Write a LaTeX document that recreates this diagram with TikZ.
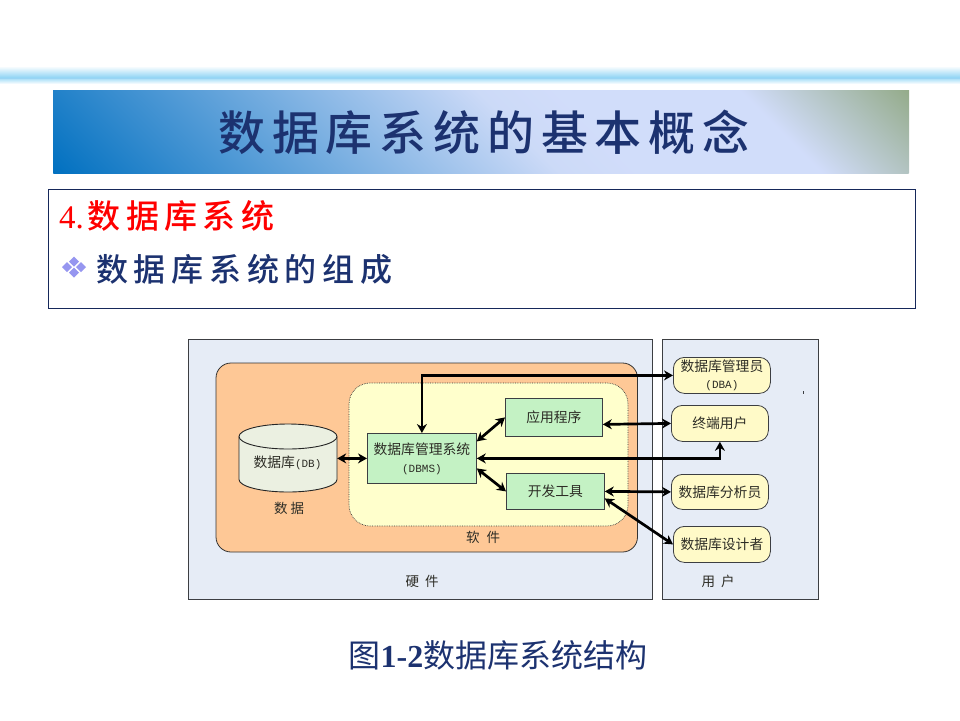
\documentclass[tikz,border=0pt]{standalone}
\usepackage{fontspec}
\usetikzlibrary{arrows.meta}
\newfontfamily\cjk{Noto Sans CJK SC}
\newfontfamily\cjkwide[LetterSpace=16]{Noto Sans CJK SC Medium}
\newfontfamily\cjksub[LetterSpace=18]{Noto Sans CJK SC Medium}
\newfontfamily\cjkhead[LetterSpace=14.5]{Noto Sans CJK SC Medium}
\newfontfamily\latinser{Liberation Serif}
\newfontfamily\latinmono{Liberation Mono}
\definecolor{navy}{RGB}{28,50,112}
\definecolor{inktext}{RGB}{45,45,38}
\definecolor{edgegray}{RGB}{60,62,66}
\definecolor{panelfill}{RGB}{230,236,246}
\definecolor{orangefill}{RGB}{254,200,150}
\definecolor{softfill}{RGB}{255,255,204}
\definecolor{greenfill}{RGB}{196,242,196}
\definecolor{userfill}{RGB}{255,250,200}
\definecolor{cylbody}{RGB}{235,240,225}
\definecolor{bulletc}{RGB}{150,150,240}
\pgfdeclarehorizontalshading{titlegrad}{100bp}{
 rgb(0bp)=(0,0.439,0.753);
 rgb(25bp)=(0,0.439,0.753);
 rgb(52bp)=(0.80,0.855,0.97);
 rgb(56bp)=(0.82,0.865,0.98);
 rgb(66bp)=(0.82,0.865,0.98);
 rgb(75bp)=(0.58,0.67,0.54);
 rgb(100bp)=(0.58,0.67,0.54)}
\pgfdeclareverticalshading{bandgrad}{100bp}{
 rgb(0bp)=(1,1,1);
 rgb(25bp)=(1,1,1);
 rgb(56bp)=(0.58,0.84,0.96);
 rgb(57bp)=(0.50,0.76,0.93);
 rgb(59bp)=(0.65,0.87,0.97);
 rgb(75bp)=(1,1,1);
 rgb(100bp)=(1,1,1)}
\tikzset{
 panel/.style={draw=edgegray,line width=0.8pt,fill=panelfill},
 greenbox/.style={draw=edgegray,line width=0.8pt,fill=greenfill,inner sep=0pt,align=center,text=inktext,font=\cjk\fontsize{13.8pt}{18pt}\selectfont},
 userbox/.style={draw=edgegray,line width=0.8pt,fill=userfill,rounded corners=11pt,inner sep=0pt,align=center,text=inktext,font=\cjk\fontsize{13.8pt}{17pt}\selectfont},
 caplabel/.style={inner sep=0pt,text=inktext,font=\cjk\fontsize{13.5pt}{15pt}\selectfont},
 link/.style={line width=2.7pt,black,{Stealth[length=9pt,width=10pt]}-{Stealth[length=9pt,width=10pt]}},
 gem/.style={fill=bulletc,draw=none}
}
\newcommand{\boxat}[6]{\node[#1,anchor=north west,minimum width=#4pt,minimum height=#5pt] (#2) at #3 {#6};}
\begin{document}
\begin{tikzpicture}[x=1pt,y=-1pt]
\useasboundingbox (0,0) rectangle (960,720);
\fill[white] (0,0) rectangle (960,720);
% top band
\shade[shading=bandgrad,shading angle=180] (0,66) rectangle (960,84);
% title bar
\begin{scope}
\clip (53,90) rectangle (909,173);
\begin{scope}[transform canvas={shift={(481,131.5)},rotate=45}]
\shade[shading=titlegrad] (-332,-332) rectangle (332,332);
\end{scope}
\end{scope}
\node[inner sep=0pt,text=navy,font=\cjkhead\fontsize{47pt}{56pt}\selectfont] (title) at (484,132) {数据库系统的基本概念};
% text frame
\draw[draw=navy!80!black,line width=0.9pt,fill=white] (48.5,189) rectangle (915.5,308);
\node[inner sep=0pt,anchor=west,text=red,font=\cjkwide\fontsize{33pt}{36pt}\selectfont] (headline) at (59,216) {{\latinser\fontsize{33pt}{36pt}\selectfont 4.}\hspace{4pt}数据库系统};
\fill[gem] (74,256.5) -- (79,261.5) -- (74,266.5) -- (69,261.5) -- cycle;
\fill[gem] (74,267.5) -- (79,272.5) -- (74,277.5) -- (69,272.5) -- cycle;
\fill[gem] (67,262) -- (72,267) -- (67,272) -- (62,267) -- cycle;
\fill[gem] (81,262) -- (86,267) -- (81,272) -- (76,267) -- cycle;
\node[inner sep=0pt,anchor=west,text=navy,font=\cjksub\fontsize{32pt}{36pt}\selectfont] (subline) at (96,269) {数据库系统的组成};
% panels
\draw[panel] (188,339) rectangle (652,599);
\draw[panel] (662,339) rectangle (818,599);
\draw[draw=black!80,line width=0.8pt,fill=orangefill,rounded corners=15pt] (216,363) rectangle (637.5,552);
\draw[draw=black!80,line width=0.7pt,densely dotted,fill=softfill,rounded corners=21pt] (349,383) rectangle (628,526);
% cylinder
\node[inner sep=0pt,minimum width=98pt,minimum height=68pt] (db) at (288,458) {};
\draw[draw=black!85,line width=0.9pt,fill=cylbody] (239,436.5) -- (239,479.5)
  .. controls (239,486.4) and (261,492) .. (288,492)
  .. controls (315,492) and (337,486.4) .. (337,479.5) -- (337,436.5)
  .. controls (337,429.6) and (315,424) .. (288,424)
  .. controls (261,424) and (239,429.6) .. (239,436.5) -- cycle;
\draw[draw=black!85,line width=0.9pt] (239,436.5)
  .. controls (239,443.4) and (261,449) .. (288,449)
  .. controls (315,449) and (337,443.4) .. (337,436.5);
\node[caplabel,font=\cjk\fontsize{13.8pt}{17pt}\selectfont] (dbtext) at (287.5,463) {数据库{\latinmono\fontsize{11pt}{12pt}\selectfont (DB)}};
% boxes
\boxat{greenbox}{dbms}{(367,433)}{109}{50}{数据库管理系统\\{\latinmono\fontsize{11pt}{12pt}\selectfont (DBMS)}}
\boxat{greenbox}{app}{(505,398)}{97}{38}{应用程序}
\boxat{greenbox}{dev}{(506,473)}{98}{36}{开发工具}
\boxat{userbox}{dba}{(673,357)}{97}{36}{数据库管理员\\{\latinmono\fontsize{11pt}{12pt}\selectfont (DBA)}}
\boxat{userbox}{term}{(671,405)}{97}{36}{终端用户}
\boxat{userbox}{ana}{(671,474)}{97}{35}{数据库分析员}
\boxat{userbox}{des}{(673,526)}{97}{36}{数据库设计者}
% connectors
\draw[link] (dbms.north) |- (dba.west);
\draw[link] (db.east |- dbms.west) -- (dbms.west);
\draw[link] ([yshift=17pt]dbms.east) -- (app.west);
\draw[link] ([yshift=-10pt]dbms.east) -- (dev.west);
\draw[link] (dbms.east) -| (term.south);
\draw[link] ([yshift=-7pt]app.east) -- (term.west);
\draw[link] (dev.east) -- (ana.west);
\draw[link] ([yshift=-7pt]dev.east) -- (des.west);
% labels
\node[caplabel] (ldata) at (289,508) {数\hspace{3pt}据};
\node[caplabel] (lsoft) at (483,537) {软\hspace{7pt}件};
\node[caplabel] (lhard) at (422,581) {硬\hspace{6pt}件};
\node[caplabel] (luser) at (718,581) {用\hspace{6pt}户};
\fill[edgegray] (802.6,390.5) rectangle (803.6,393.5);
% caption
\node[inner sep=0pt,text=navy,font=\cjk\fontsize{32pt}{36pt}\selectfont] (figcap) at (498,655) {图{\latinser\bfseries\fontsize{32pt}{36pt}\selectfont 1-2}数据库系统结构};
\end{tikzpicture}
\end{document}
